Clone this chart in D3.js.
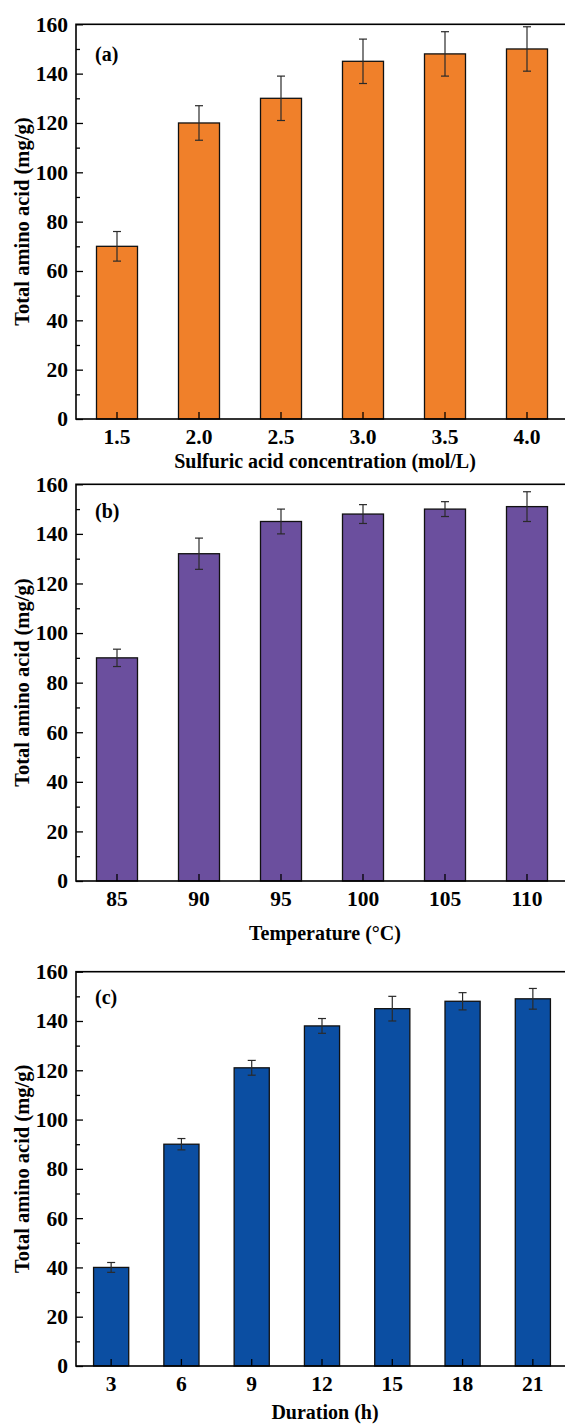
<!DOCTYPE html>
<html>
<head>
<meta charset="utf-8">
<script src="https://cdn.jsdelivr.net/npm/d3@7"></script>
<style>
body { margin: 0; background: #fff; }
svg text { font-family: "Liberation Serif", "Times New Roman", serif; font-weight: bold; fill: #000; }
</style>
</head>
<body>
<div></div>
<script>
// panel (a) sulfuric acid concentration
let concLabels = ["1.5", "2.0", "2.5", "3.0", "3.5", "4.0"];
let concValues = [70, 120, 130, 145, 148, 150];
let concErrors = [6, 7, 9, 9, 9, 9];
// panel (b) temperature
let tempLabels = ["85", "90", "95", "100", "105", "110"];
let tempValues = [90, 132, 145, 148, 150, 151];
let tempErrors = [3.5, 6.3, 5, 3.8, 3, 6];
// panel (c) duration
let durLabels = ["3", "6", "9", "12", "15", "18", "21"];
let durValues = [40, 90, 121, 138, 145, 148, 149];
let durErrors = [2, 2.3, 3, 3, 5, 3.5, 4.2];

let yMajor = [0, 20, 40, 60, 80, 100, 120, 140, 160];
let yMinor = [10, 30, 50, 70, 90, 110, 130, 150];
let yTitle = "Total amino acid (mg/g)";

let svgWidth = 565;
let svgHeight = 1424;
let plotLeft = 76;
let plotRight = 568;

let svg = d3.select("body div")
    .append("svg")
    .attr("width", svgWidth)
    .attr("height", svgHeight);

function drawPanel(p)
{
    let g = svg.append("g");
    let x = d3.scaleBand()
        .domain(p.labels)
        .range([plotLeft, plotRight])
        .paddingInner(0.5)
        .paddingOuter(0.25);
    let y = d3.scaleLinear()
        .domain([0, 160])
        .range([p.bottom, p.top]);

    // bars
    g.selectAll("rect.bar")
        .data(p.values)
        .enter()
        .append("rect")
        .attr("class", "bar")
        .attr("x", (d, i) => x(p.labels[i]))
        .attr("y", d => y(d))
        .attr("width", x.bandwidth())
        .attr("height", d => y(0) - y(d))
        .attr("fill", p.color)
        .attr("stroke", "#111")
        .attr("stroke-width", 1.3);

    // error bars
    let eb = g.selectAll("g.err")
        .data(p.values)
        .enter()
        .append("g")
        .attr("class", "err")
        .attr("stroke", "#2a2a2a")
        .attr("stroke-width", 1.2);
    let cx = i => x(p.labels[i]) + x.bandwidth() / 2;
    eb.append("line")
        .attr("x1", (d, i) => cx(i)).attr("x2", (d, i) => cx(i))
        .attr("y1", (d, i) => y(d + p.errors[i]))
        .attr("y2", (d, i) => y(d - p.errors[i]));
    eb.append("line")
        .attr("x1", (d, i) => cx(i) - 4).attr("x2", (d, i) => cx(i) + 4)
        .attr("y1", (d, i) => y(d + p.errors[i]))
        .attr("y2", (d, i) => y(d + p.errors[i]));
    eb.append("line")
        .attr("x1", (d, i) => cx(i) - 4).attr("x2", (d, i) => cx(i) + 4)
        .attr("y1", (d, i) => y(d - p.errors[i]))
        .attr("y2", (d, i) => y(d - p.errors[i]));

    // y axis, ticks point inward
    let ya = g.append("g")
        .attr("transform", "translate(" + plotLeft + ",0)")
        .call(d3.axisLeft(y).tickValues(yMajor).tickSize(-7).tickPadding(8));
    ya.select(".domain").remove();
    ya.selectAll("line").attr("stroke", "#000").attr("stroke-width", 1.3);
    ya.selectAll("text").style("font-size", "21.5px");
    let ym = g.append("g")
        .attr("transform", "translate(" + plotLeft + ",0)")
        .call(d3.axisLeft(y).tickValues(yMinor).tickSize(-4).tickFormat(""));
    ym.select(".domain").remove();
    ym.selectAll("line").attr("stroke", "#000").attr("stroke-width", 1.3);

    // x axis
    let xa = g.append("g")
        .attr("transform", "translate(0," + p.bottom + ")")
        .call(d3.axisBottom(x).tickSize(-7).tickPadding(10));
    xa.select(".domain").remove();
    xa.selectAll("line").attr("stroke", "#000").attr("stroke-width", 1.3);
    xa.selectAll("text").style("font-size", "21.5px");

    // frame
    g.append("rect")
        .attr("x", plotLeft)
        .attr("y", p.top)
        .attr("width", plotRight - plotLeft)
        .attr("height", p.bottom - p.top)
        .attr("fill", "none")
        .attr("stroke", "#000")
        .attr("stroke-width", 1.6);

    // panel tag
    g.append("text")
        .attr("x", 95)
        .attr("y", p.tagY)
        .style("font-size", "20px")
        .text(p.tag);

    // axis titles
    g.append("text")
        .attr("x", (plotLeft + plotRight) / 2 + 3)
        .attr("y", p.titleY)
        .attr("text-anchor", "middle")
        .style("font-size", "20px")
        .text(p.xTitle);
    g.append("text")
        .attr("transform", "translate(29," + ((p.top + p.bottom) / 2) + ") rotate(-90)")
        .attr("text-anchor", "middle")
        .style("font-size", "20.5px")
        .text(yTitle);
}

drawPanel({labels: concLabels, values: concValues, errors: concErrors, color: "#F0802A",
    top: 24.3, bottom: 419, titleY: 468, tagY: 61, tag: "(a)", xTitle: "Sulfuric acid concentration (mol/L)"});
drawPanel({labels: tempLabels, values: tempValues, errors: tempErrors, color: "#6B4F9E",
    top: 484.3, bottom: 881, titleY: 940, tagY: 518, tag: "(b)", xTitle: "Temperature (\u00B0C)"});
drawPanel({labels: durLabels, values: durValues, errors: durErrors, color: "#0B4EA2",
    top: 971.7, bottom: 1366, titleY: 1419, tagY: 1004, tag: "(c)", xTitle: "Duration (h)"});
</script>
</body>
</html>
